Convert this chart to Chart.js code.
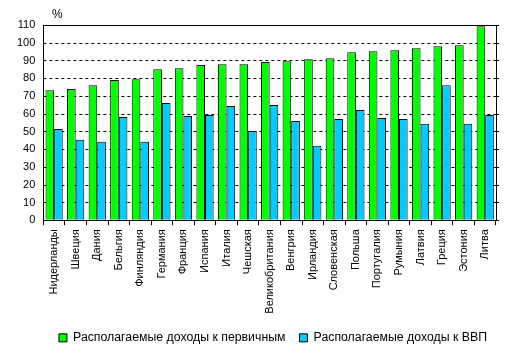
<!DOCTYPE html>
<html>
<head>
<meta charset="utf-8">
<script src="https://cdn.jsdelivr.net/npm/chart.js@4"></script>
<style>
html,body{margin:0;padding:0;background:#fff;}
canvas{display:block;}
</style>
</head>
<body>
<canvas id="c" width="511" height="357"></canvas>
<script>
const categories = ["Нидерланды","Швеция","Дания","Бельгия","Финляндия","Германия","Франция","Испания","Италия","Чешская","Великобритания","Венгрия","Ирландия","Словенская","Польша","Португалия","Румыния","Латвия","Греция","Эстония","Литва"];
const primaryRatio = [73.3,73.9,76.1,79.0,79.5,85.1,85.7,87.4,87.9,87.9,89.1,89.6,90.7,91.3,94.7,95.2,95.8,96.9,98.0,98.6,109.3];
const gdpRatio = [51.4,45.3,44.2,58.2,44.2,66.0,58.7,59.3,64.4,50.3,64.9,55.9,41.9,57.1,62.1,57.6,57.1,54.3,76.1,54.3,59.3];
const seriesNames = ["Располагаемые доходы к первичным","Располагаемые доходы к ВВП"];
const unitLabel = "%";

const FONT = "'Liberation Sans', Arial, sans-serif";

const gridPlugin = {
  id: 'dashgrid',
  afterLayout(chart) {
    if (chart.legend) { chart.legend.left += 5; chart.legend.right += 5; }
  },
  beforeDatasetsDraw(chart) {
    const a = chart.chartArea, ctx = chart.ctx, y = chart.scales.y;
    ctx.save();
    ctx.strokeStyle = '#000';
    ctx.lineWidth = 1;
    ctx.setLineDash([3, 3]);
    y.ticks.forEach(t => {
      if (t.value <= y.min || t.value >= y.max) return;
      const py = Math.round(y.getPixelForValue(t.value)) + 0.5;
      ctx.beginPath();
      ctx.moveTo(a.left, py);
      ctx.lineTo(a.right, py);
      ctx.stroke();
    });
    ctx.restore();
  },
  afterDraw(chart) {
    const a = chart.chartArea, ctx = chart.ctx, y = chart.scales.y;
    ctx.save();
    ctx.strokeStyle = '#000';
    ctx.lineWidth = 1;
    ctx.beginPath();
    ctx.moveTo(a.left, a.top + 0.5);
    ctx.lineTo(a.right + 0.5, a.top + 0.5);
    ctx.lineTo(a.right + 0.5, a.bottom);
    y.ticks.forEach(t => {
      const py = Math.round(y.getPixelForValue(t.value)) + 0.5;
      ctx.moveTo(a.right, py);
      ctx.lineTo(a.right + 3, py);
    });
    ctx.stroke();
    ctx.fillStyle = '#000';
    ctx.font = "12px " + FONT;
    ctx.textAlign = 'left';
    ctx.textBaseline = 'alphabetic';
    ctx.fillText(unitLabel, 52, 18);
    ctx.restore();
  }
};

new Chart(document.getElementById('c'), {
  type: 'bar',
  data: {
    labels: categories,
    datasets: [
      { label: seriesNames[0], data: primaryRatio, backgroundColor: '#00ff00', borderColor: '#000', borderWidth: 1 },
      { label: seriesNames[1], data: gdpRatio, backgroundColor: '#00ccff', borderColor: '#000', borderWidth: 1 }
    ]
  },
  options: {
    responsive: false,
    animation: false,
    devicePixelRatio: 1,
    layout: { padding: { top: 25, right: 15, left: 9, bottom: 3 } },
    datasets: { bar: { categoryPercentage: 0.8, barPercentage: 1.0 } },
    plugins: {
      legend: {
        position: 'bottom',
        align: 'end',
        labels: { font: { family: FONT, size: 12.3 }, color: '#000', boxWidth: 8, boxHeight: 8, padding: 14 }
      },
      tooltip: { enabled: false }
    },
    scales: {
      x: {
        grid: { drawOnChartArea: false, drawTicks: true, tickLength: 5, color: '#000', offset: true },
        border: { color: '#000' },
        ticks: { font: { family: FONT, size: 11 }, color: '#000', maxRotation: 90, minRotation: 90, autoSkip: false, padding: 4 }
      },
      y: {
        min: 0, max: 110,
        grid: { drawOnChartArea: false, drawTicks: false },
        border: { color: '#000' },
        ticks: { stepSize: 10, font: { family: FONT, size: 11 }, color: '#000', padding: 8 }
      }
    }
  },
  plugins: [gridPlugin]
});
</script>
</body>
</html>
